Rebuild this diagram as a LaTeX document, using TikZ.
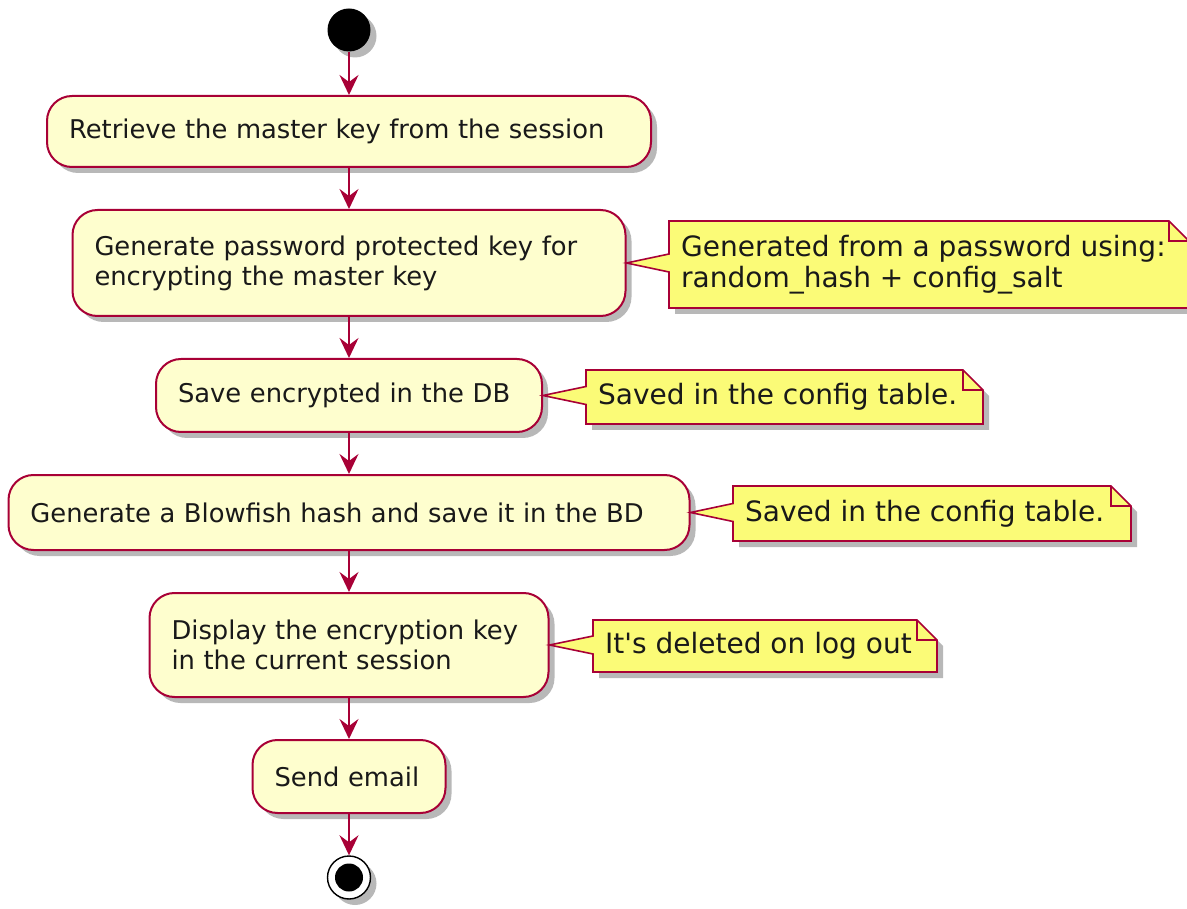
\documentclass[tikz,border=0pt]{standalone}
\usepackage{fontspec}
\setmainfont{DejaVu Sans}[Ligatures=TeXOff]
\usetikzlibrary{shadows,arrows.meta}
\definecolor{umlred}{HTML}{A80036}
\definecolor{actfill}{HTML}{FEFECE}
\definecolor{notefill}{HTML}{FBFB77}
\tikzset{
  shadowed/.style={drop shadow={shadow xshift=6pt, shadow yshift=-6pt, fill=black, opacity=0.28}},
  act/.style={rectangle, rounded corners=25pt, draw=umlred, fill=actfill, line width=2pt,
    align=left, inner xsep=22pt, inner ysep=0pt, text=black!90,
    font=\fontsize{25.8}{30}\selectfont, shadowed},
  notetext/.style={anchor=west, align=left, inner sep=0pt, text=black!90,
    font=\fontsize{28}{31}\selectfont},
  noteshape/.style={draw=umlred, fill=notefill, line width=1.6pt, line join=miter},
  flow/.style={draw=umlred, line width=2pt,
    -{Stealth[length=20pt, width=19pt, inset=7pt]}},
}
% #1 name, #2 L, #3 T, #4 R, #5 B, #6 tip coordinate, #7 pointer y, #8 text
\newcommand{\umlnote}[8]{%
  \fill[black, opacity=0.28, xshift=6pt, yshift=-6pt]
    (#2,#3) -- (#4-20,#3) -- (#4,#3+20) -- (#4,#5) -- (#2,#5) -- cycle;
  \path[noteshape] (#2,#3) -- (#4-20,#3) -- (#4,#3+20) -- (#4,#5) -- (#2,#5)
    -- (#2,#7+9) -- (#6) -- (#2,#7-9) -- cycle;
  \draw[umlred, line width=1.6pt] (#4-20,#3) -- (#4-20,#3+20) -- (#4,#3+20);
  \node[notetext] (#1) at (#2+12,{(#3+#5)/2}) {#8};
}
\begin{document}
\begin{tikzpicture}[x=1pt, y=-1pt]
\useasboundingbox (0,0) rectangle (1187,909);
\clip (0,0) rectangle (1187,909);

\node[circle, fill=black, minimum size=43pt, inner sep=0pt, shadowed] (start) at (349,30) {};

\node[act, text width=560pt, minimum height=71pt] (a1) at (349,131.5)
  {Retrieve the master key from the session};
\node[act, text width=509pt, minimum height=106pt] (a2) at (349,263)
  {Generate password protected key for\\encrypting the master key};
\node[act, text width=342pt, minimum height=73pt] (a3) at (349,395.5)
  {Save encrypted in the DB};
\node[act, text width=637pt, minimum height=75pt] (a4) at (349,512.5)
  {Generate a Blowfish hash and save it in the BD};
\node[act, text width=355pt, minimum height=104pt] (a5) at (349,645)
  {Display the encryption key\\in the current session};
\node[act, text width=149pt, minimum height=73pt] (a6) at (349,776.5)
  {Send email};

\node[circle, draw=black, line width=1.4pt, fill=white, minimum size=43pt, inner sep=0pt, shadowed] (stop) at (349,877.5) {};
\fill[black] (stop.center) circle (14pt);

\draw[flow] (start) -- (a1);
\draw[flow] (a1) -- (a2);
\draw[flow] (a2) -- (a3);
\draw[flow] (a3) -- (a4);
\draw[flow] (a4) -- (a5);
\draw[flow] (a5) -- (a6);
\draw[flow] (a6) -- (stop);

\umlnote{n1}{669}{221}{1189}{308}{a2.east}{263}{Generated from a password using:\\random\_hash + config\_salt}
\umlnote{n2}{586}{370}{983}{424}{a3.east}{395.5}{Saved in the config table.}
\umlnote{n3}{733}{486}{1131}{541}{a4.east}{512.5}{Saved in the config table.}
\umlnote{n4}{593}{620}{937}{672}{a5.east}{645}{It's deleted on log out}
\end{tikzpicture}
\end{document}
